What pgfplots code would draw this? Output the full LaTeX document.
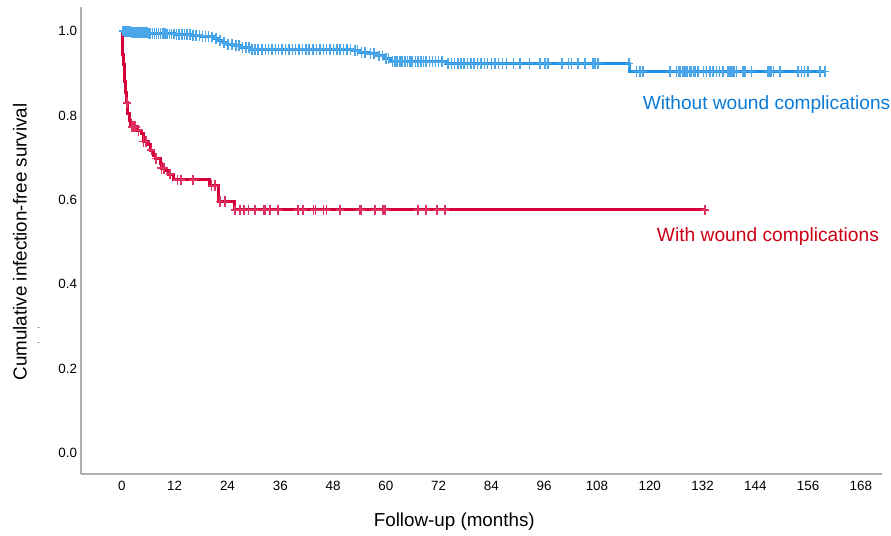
\documentclass[border=0pt]{standalone}
\usepackage{fontspec}
\setmainfont{Liberation Sans}
\usepackage{pgfplots}
\pgfplotsset{compat=1.18}
\definecolor{kmblue}{RGB}{30,144,229}
\definecolor{kmred}{RGB}{214,0,58}
\definecolor{txtblue}{RGB}{10,122,214}
\definecolor{txtred}{RGB}{204,0,20}
\definecolor{axgray}{RGB}{175,175,175}
\begin{document}
\begin{tikzpicture}
\begin{axis}[
  scale only axis, width=801bp, height=467bp,
  at={(0,0)}, anchor=south west,
  xmin=-9.3, xmax=172.8, ymin=-0.05, ymax=1.057,
  axis x line*=bottom, axis y line*=left,
  axis line style={axgray, line width=1.2bp},
  xtick={0,12,...,168}, ytick={0,0.2,0.4,0.6,0.8,1.0},
  major tick length=0pt,
  /pgf/number format/assume math mode=true,
  yticklabel style={/pgf/number format/fixed, /pgf/number format/fixed zerofill, /pgf/number format/precision=1, xshift=-0.5bp},
  ticklabel style={font=\fontsize{13.4bp}{16bp}\selectfont, text=black},
  xticklabel style={yshift=-4bp},
  clip=false,
]
% blue (without wound complications)
\addplot[const plot, kmblue, line width=3bp] coordinates {
(0,1.000)(0.5,0.998)(2,0.997)(4,0.996)(6,0.995)(8,0.994)(10,0.993)(12,0.992)(14,0.991)(16,0.990)(18,0.988)(20,0.986)(21,0.982)(22,0.978)(23,0.973)(24,0.969)(25.5,0.965)(27,0.961)(29,0.957)(52.5,0.953)(54,0.949)(56,0.946)(58,0.941)(59.5,0.935)(61,0.927)(73.5,0.923)(115.5,0.904)(159.8,0.904)};
\addplot[only marks, mark=+, mark size=4bp, mark options={yscale=1.35}, kmblue!80, line width=1.6bp] coordinates {
(0.3,1.000)(0.6,0.998)(0.9,0.998)(1.2,0.998)(1.5,0.998)(1.8,0.998)(2.2,0.997)(2.5,0.997)(2.8,0.997)(3.2,0.997)(3.6,0.997)
(4.0,0.996)(4.4,0.996)(4.8,0.996)(5.2,0.996)(5.7,0.996)(6.1,0.995)(6.5,0.995)(7.0,0.995)(7.4,0.995)(7.9,0.995)
(8.3,0.994)(8.8,0.994)(9.3,0.994)(9.8,0.994)(10.3,0.993)(10.8,0.993)(11.3,0.993)(11.8,0.993)(12.4,0.992)(13.0,0.992)(13.6,0.992)
(14.2,0.991)(14.8,0.991)(15.5,0.991)(16.2,0.990)(16.9,0.990)(17.6,0.990)(18.3,0.988)(19.0,0.988)(19.7,0.988)(20.5,0.986)
(21.4,0.982)(22.3,0.978)(23.2,0.973)(24.1,0.969)(25.0,0.969)(25.9,0.965)(26.6,0.965)(27.4,0.961)(28.2,0.961)(28.9,0.961)
(29.6,0.957)(30.3,0.957)(31.0,0.957)(31.8,0.957)(32.6,0.957)(33.3,0.957)(34.1,0.957)(34.9,0.957)(35.6,0.957)(36.4,0.957)
(37.2,0.957)(38.0,0.957)(38.8,0.957)(39.5,0.957)(40.3,0.957)(41.1,0.957)(41.9,0.957)(42.6,0.957)(43.4,0.957)(44.2,0.957)
(45.0,0.957)(45.8,0.957)(46.5,0.957)(47.3,0.957)(48.1,0.957)(48.9,0.957)(49.6,0.957)(50.4,0.957)(51.2,0.957)(52.0,0.957)
(53.0,0.953)(53.6,0.953)(54.5,0.949)(55.2,0.949)(56.5,0.946)(57.3,0.946)(58.5,0.941)(59.2,0.941)(60.0,0.935)(60.6,0.935)
(61.5,0.927)(62.1,0.927)(62.6,0.927)(63.2,0.927)(63.7,0.927)(64.3,0.927)(64.9,0.927)(65.5,0.927)(66.0,0.927)(66.7,0.927)
(67.3,0.927)(68.0,0.927)(68.6,0.927)(69.2,0.927)(69.9,0.927)(70.6,0.927)(71.3,0.927)(72.0,0.927)(72.8,0.927)
(74.2,0.923)(74.9,0.923)(75.6,0.923)(76.4,0.923)(77.1,0.923)(77.8,0.923)(78.6,0.923)(79.3,0.923)(80.1,0.923)(80.8,0.923)
(81.6,0.923)(82.4,0.923)(83.1,0.923)(84.0,0.923)(84.8,0.923)(85.6,0.923)(86.5,0.923)(87.4,0.923)(89.0,0.923)(90.5,0.923)
(92.7,0.923)(95.0,0.923)(96.2,0.923)(96.9,0.923)(100.0,0.923)(101.5,0.923)(102.2,0.923)(103.7,0.923)(105.3,0.923)
(107.1,0.923)(107.5,0.923)(108.3,0.923)(115.3,0.923)
(117.0,0.904)(117.8,0.904)(118.5,0.904)(124.6,0.904)(126.1,0.904)(126.5,0.904)(126.9,0.904)(127.6,0.904)(128.0,0.904)
(128.4,0.904)(129.1,0.904)(129.5,0.904)(129.9,0.904)(130.3,0.904)(131.0,0.904)(132.2,0.904)(132.9,0.904)(133.7,0.904)
(134.4,0.904)(135.2,0.904)(135.9,0.904)(136.7,0.904)(137.8,0.904)(138.2,0.904)(138.6,0.904)(138.9,0.904)(139.3,0.904)
(139.7,0.904)(141.2,0.904)(141.6,0.904)(143.1,0.904)(146.9,0.904)(147.3,0.904)(147.7,0.904)(148.1,0.904)(149.6,0.904)
(153.7,0.904)(154.5,0.904)(155.2,0.904)(156.0,0.904)(158.7,0.904)(159.8,0.904)};
% red (with wound complications)
\addplot[const plot, kmred, line width=3bp] coordinates {
(0,1.0)(0.1,0.97)(0.2,0.945)(0.35,0.92)(0.5,0.90)(0.7,0.88)(0.9,0.855)(1.1,0.83)(1.3,0.805)(1.7,0.787)(1.9,0.773)(3.3,0.765)(4.4,0.756)(4.8,0.738)(6.0,0.731)(6.4,0.718)(7.1,0.706)(7.6,0.698)(8.7,0.686)(8.9,0.675)(10.2,0.669)(10.6,0.661)(11.8,0.647)(20.0,0.633)(21.9,0.596)(25.5,0.576)(132.5,0.576)};
\addplot[only marks, mark=+, mark size=4bp, mark options={yscale=1.35}, kmred!80, line width=1.6bp] coordinates {
(1.2,0.83)(2.3,0.773)(2.8,0.773)(3.1,0.773)(3.8,0.765)(4.9,0.738)(5.5,0.738)(6.7,0.718)(7.8,0.698)(9.0,0.675)(9.6,0.675)
(10.9,0.661)(12.6,0.647)(13.5,0.647)(16.1,0.647)(20.4,0.633)(21.1,0.633)(22.3,0.596)(23.4,0.596)
(25.7,0.576)(26.8,0.576)(27.7,0.576)(28.8,0.576)(30.2,0.576)(32.3,0.576)(32.5,0.576)(33.6,0.576)(35.5,0.576)(40.1,0.576)
(41.2,0.576)(43.6,0.576)(44.0,0.576)(45.8,0.576)(46.5,0.576)(49.6,0.576)(54.1,0.576)(54.3,0.576)(57.5,0.576)(59.4,0.576)
(59.8,0.576)(67.3,0.576)(69.1,0.576)(71.6,0.576)(73.4,0.576)(132.5,0.576)};
\node[anchor=west, text=txtblue, font=\fontsize{19.1bp}{22bp}\selectfont, inner sep=0pt] at (axis cs:118.4,0.825) {Without wound complications};
\node[anchor=west, text=txtred, font=\fontsize{19.2bp}{22bp}\selectfont, inner sep=0pt] at (axis cs:121.6,0.514) {With wound complications};
\node[font=\fontsize{18.8bp}{22bp}\selectfont, inner sep=0pt] at ([yshift=-48bp]rel axis cs:0.466,0) {Follow-up (months)};
\node[rotate=90, font=\fontsize{18.8bp}{22bp}\selectfont, inner sep=0pt] at ([xshift=-61bp]rel axis cs:0,0.497) {Cumulative infection-free survival};
\node[font=\fontsize{9bp}{10bp}\selectfont, inner sep=0pt] at ([xshift=-42bp]rel axis cs:0,0.3126) {.};
\node[font=\fontsize{9bp}{10bp}\selectfont, inner sep=0pt] at ([xshift=-42bp]rel axis cs:0,0.2805) {.};
\end{axis}
\path (-81bp,-62bp) rectangle (810bp,474bp);
\end{tikzpicture}
\end{document}
